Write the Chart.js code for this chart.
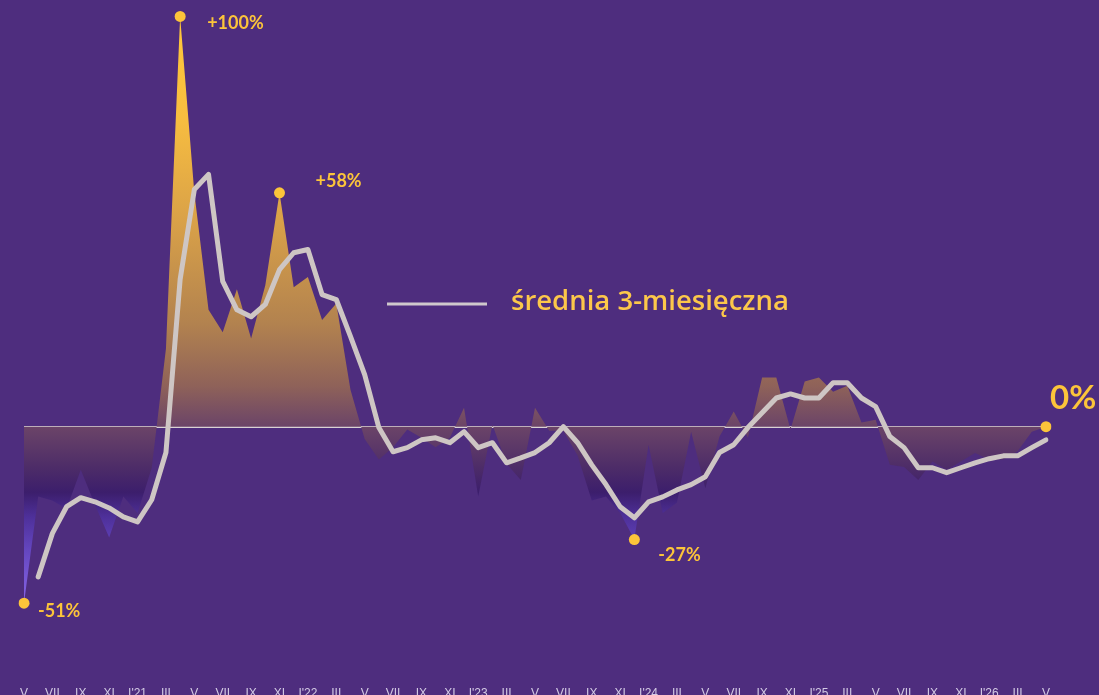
<!DOCTYPE html>
<html>
<head>
<meta charset="utf-8">
<script src="https://cdn.jsdelivr.net/npm/chart.js@4/dist/chart.umd.min.js"></script>
<style>
  html, body { margin: 0; padding: 0; background: #4e2d7e; overflow: hidden; }
  canvas { display: block; }
</style>
</head>
<body>
<canvas id="chart" width="1099" height="710"></canvas>
<script>
// miesiące V 2020 - V 2026
const months = [
  "V","VI","VII","VIII","IX","X","XI","XII",
  "I'21","II","III","IV","V","VI","VII","VIII","IX","X","XI","XII",
  "I'22","II","III","IV","V","VI","VII","VIII","IX","X","XI","XII",
  "I'23","II","III","IV","V","VI","VII","VIII","IX","X","XI","XII",
  "I'24","II","III","IV","V","VI","VII","VIII","IX","X","XI","XII",
  "I'25","II","III","IV","V","VI","VII","VIII","IX","X","XI","XII",
  "I'26","II","III","IV","V"
];

// zmiana r/r w %
const monthlyChange = [
  -43, -17, -18, -20, -10.5, -19, -27, -17,
  -21, -10, 19, 100, 57, 28.5, 23, 33.5, 21.5, 34.5, 57, 34,
  36.5, 26, 30, 9, -3, -8, -5, -0.7, -2.7, -5, -2.7, 4.6,
  -17, 0.5, -9, -13, 4.6, -1, -1, -7, -18, -17, -21, -27.5,
  -4.4, -21, -18.5, -1.2, -15, -2.4, 3.7, -2.7, 12, 12, -0.7, 11,
  12, 8.5, 10, 1, 1.7, -9.3, -9.8, -13, -8.5, -10.5, -8.5, -6.4,
  -8, -8, -6, -1.2, 0
];

// średnia 3-miesięczna
const avg3m = [
  null, -36.6, -26, -19.5, -17.3, -18.3, -19.8, -22,
  -23.2, -17.8, -6.3, 35.9, 57.8, 61.5, 35.4, 28.5, 26.8, 29.8, 38.3, 42.4,
  43.2, 32.2, 31, 22, 12.7, -0.2, -6.1, -5.1, -3.2, -2.7, -3.9, -1.2,
  -5.1, -3.9, -8.8, -7.6, -6.3, -3.9, 0, -3.9, -9.3, -14.1, -19.5, -22.2,
  -18.3, -17.1, -15.4, -14.1, -12.2, -6.3, -4.4, -0.2, 3.4, 7, 8, 7,
  7, 10.7, 10.7, 7, 4.9, -2.4, -5.1, -10, -10, -11.2, -10, -8.8,
  -7.8, -7.1, -7.1, -5.1, -3.2
];

// wyróżnione punkty
const markerIndex = [0, 11, 18, 43, 72];
const markerText = ["-51%", "+100%", "+58%", "-27%", "0%"];

const legendText = "średnia 3-miesięczna";

const markerData = monthlyChange.map((v, i) => markerIndex.includes(i) ? v : null);

function areaGradient(context) {
  const chart = context.chart;
  const { ctx, chartArea, scales } = chart;
  if (!chartArea) return "rgba(0,0,0,0)";
  const y = scales.y;
  const top = y.getPixelForValue(100);
  const bottom = y.getPixelForValue(-45);
  const g = ctx.createLinearGradient(0, top, 0, bottom);
  const stop = (v, c) => {
    const p = (y.getPixelForValue(v) - top) / (bottom - top);
    g.addColorStop(Math.min(1, Math.max(0, p)), c);
  };
  stop(100, "#ffc83a");
  stop(75, "#f7bd40");
  stop(50, "#d9a148");
  stop(25, "#b2824f");
  stop(10, "#8f6259");
  stop(0, "#6b4468");
  stop(-10, "#4d2c68");
  stop(-16, "#3c1e6c");
  stop(-22, "#4e309a");
  stop(-30, "#6446bf");
  stop(-45, "#8c6aee");
  return g;
}

const labelPlugin = {
  id: "labels",
  afterDatasetsDraw(chart) {
    const ctx = chart.ctx;
    const meta = chart.getDatasetMeta(2);
    const offsets = [[14, 8], [27, 7], [36, -12], [24, 16], [4, -28]];
    ctx.save();
    ctx.fillStyle = "#fcc43a";
    ctx.textAlign = "left";
    ctx.textBaseline = "middle";
    markerIndex.forEach((idx, k) => {
      const pt = meta.data[idx];
      const big = markerText[k] === "0%";
      ctx.font = big ? "bold 33px Lato" : "bold 18px Lato";
      ctx.fillText(markerText[k], pt.x + offsets[k][0], pt.y + offsets[k][1]);
    });

    // legenda
    const a = chart.chartArea;
    ctx.strokeStyle = "#cfc8cc";
    ctx.lineWidth = 3;
    ctx.beginPath();
    ctx.moveTo(a.left + 363, 304);
    ctx.lineTo(a.left + 463, 304);
    ctx.stroke();
    ctx.font = "600 24px 'Open Sans'";
    const w = ctx.measureText(legendText).width;
    ctx.font = "600 " + (24 * 278 / w).toFixed(1) + "px 'Open Sans'";
    ctx.fillStyle = "#fcc74a";
    ctx.fillText(legendText, a.left + 487, 302);
    ctx.restore();
  }
};

new Chart(document.getElementById("chart"), {
  type: "line",
  data: {
    labels: months,
    datasets: [
      {
        data: monthlyChange,
        fill: "origin",
        backgroundColor: areaGradient,
        borderWidth: 0,
        pointRadius: 0,
        tension: 0,
        order: 3
      },
      {
        data: avg3m,
        fill: false,
        borderColor: "#cec6c4",
        borderWidth: 5,
        borderCapStyle: "round",
        borderJoinStyle: "round",
        pointRadius: 0,
        tension: 0,
        order: 1
      },
      {
        data: markerData,
        showLine: false,
        pointRadius: 5.5,
        pointBackgroundColor: "#fcc43a",
        pointBorderWidth: 0,
        order: 0
      }
    ]
  },
  options: {
    responsive: false,
    animation: false,
    events: [],
    layout: { autoPadding: false, padding: { left: 24, right: 53, top: 0, bottom: 0 } },
    plugins: { legend: { display: false }, tooltip: { enabled: false } },
    scales: {
      x: {
        grid: { display: false },
        border: { display: false },
        afterFit(scale) { scale.height = 33; },
        ticks: {
          autoSkip: false,
          maxRotation: 0,
          padding: 1,
          color: "#d3cae4",
          font: { family: "Liberation Sans", size: 12 },
          callback(value, index) { return index % 2 === 0 ? months[index] : ""; }
        }
      },
      y: {
        min: -61,
        max: 104,
        z: 1,
        afterFit(scale) { scale.width = 0; },
        border: { display: false },
        ticks: { display: false, stepSize: 10 },
        grid: {
          drawTicks: false,
          lineWidth: 2,
          color: (c) => c.tick && c.tick.value === 0 ? "#d9d2d4" : "rgba(0,0,0,0)"
        }
      }
    }
  },
  plugins: [labelPlugin]
});
</script>
</body>
</html>
